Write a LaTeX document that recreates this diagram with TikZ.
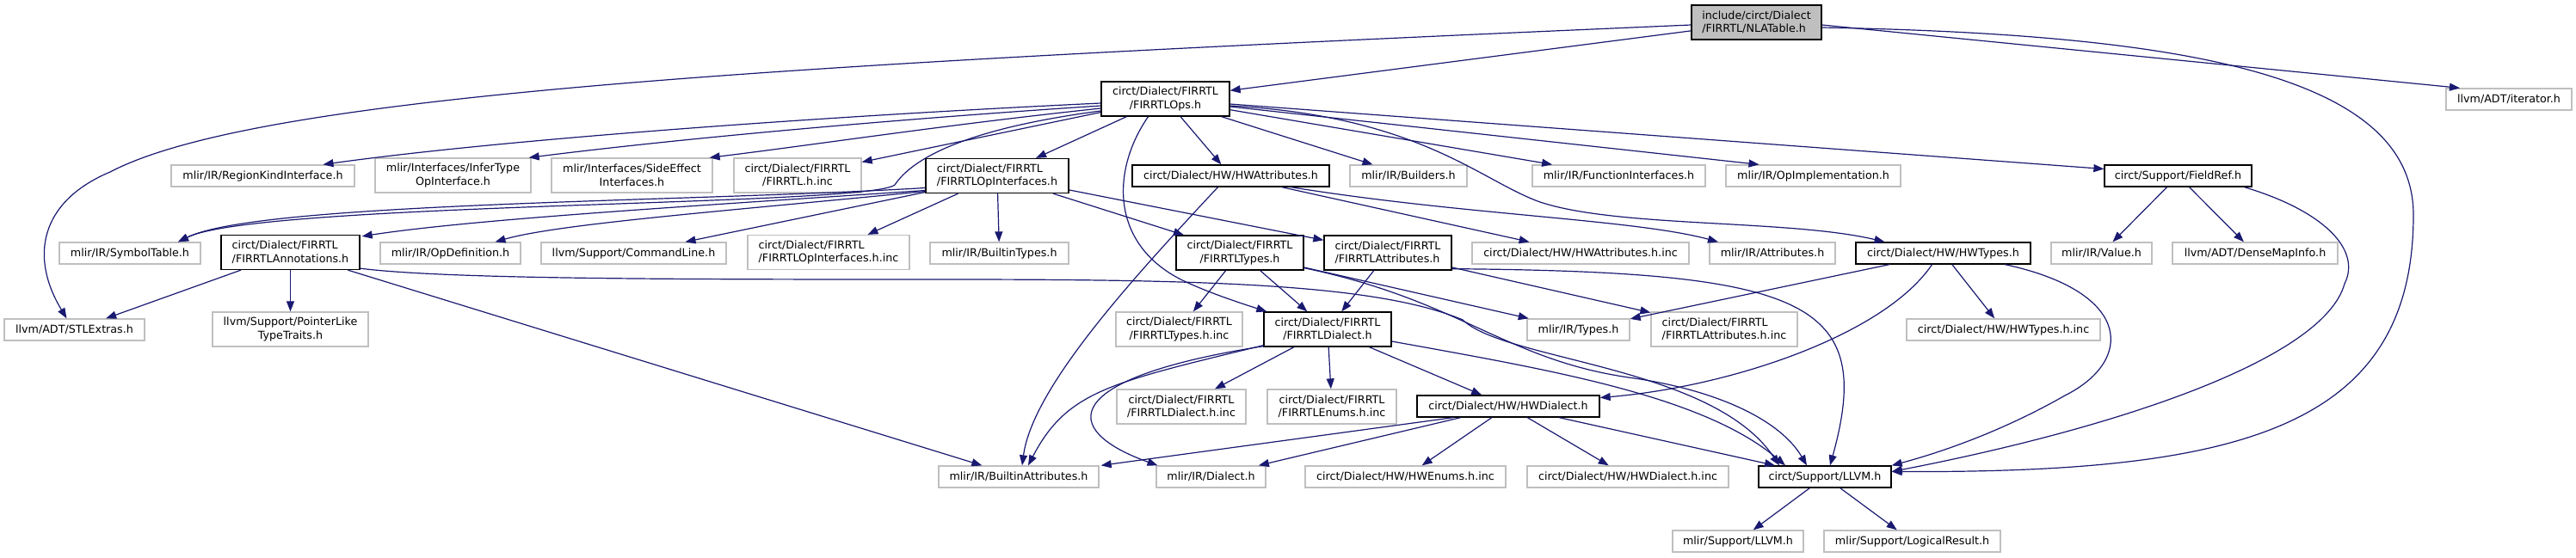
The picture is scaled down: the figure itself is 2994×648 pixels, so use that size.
\documentclass[tikz,border=0pt]{standalone}
\usepackage{fontspec}
\setmainfont{DejaVu Sans}
\usetikzlibrary{arrows.meta}
\definecolor{edgec}{HTML}{191970}
\definecolor{gborder}{HTML}{BFBFBF}
\definecolor{rootfill}{HTML}{BFBFBF}
\tikzset{
  base/.style={rectangle, inner sep=0pt, line width=1.3pt, fill=white,
    font=\fontsize{12.7}{15.5}\selectfont, minimum height=25pt, align=center},
  gn/.style={base, draw=gborder},
  bn/.style={base, draw=black},
  rn/.style={base, draw=black, fill=rootfill},
  wd/.style={minimum width=#1},
  tall/.style={minimum height=40pt},
  lft/.style={align=left},
  e/.style={draw=edgec, line width=1.2pt, -{Triangle[length=12pt,width=9pt]}},
}
\begin{document}
\begin{tikzpicture}[x=1pt,y=-1pt]
\useasboundingbox (0,0) rectangle (2994,648);
% ---- nodes ----
\node[rn, tall, lft, wd=151pt] (root) at (2041.5,26) {include/circt/Dialect\\/FIRRTL/NLATable.h};
\node[bn, tall, wd=149pt] (ops) at (1354.5,115) {circt/Dialect/FIRRTL\\/FIRRTLOps.h};
\node[gn, wd=146pt] (iter) at (2916,115.5) {llvm/ADT/iterator.h};

\node[gn, wd=213pt] (region) at (305.5,204.5) {mlir/IR/RegionKindInterface.h};
\node[gn, tall, wd=181pt] (infer) at (526.5,204) {mlir/Interfaces/InferType\\OpInterface.h};
\node[gn, tall, wd=187pt] (side) at (734.5,204) {mlir/Interfaces/SideEffect\\Interfaces.h};
\node[gn, tall, wd=148pt] (firinc) at (927,204) {circt/Dialect/FIRRTL\\/FIRRTL.h.inc};
\node[bn, tall, lft, wd=166pt] (opif) at (1159,204.5) {circt/Dialect/FIRRTL\\/FIRRTLOpInterfaces.h};
\node[bn, wd=229pt] (hwattr) at (1430.5,204.5) {circt/Dialect/HW/HWAttributes.h};
\node[gn, wd=136pt] (builders) at (1637,204.5) {mlir/IR/Builders.h};
\node[gn, wd=201pt] (funcif) at (1881.5,204.5) {mlir/IR/FunctionInterfaces.h};
\node[gn, wd=203pt] (opimpl) at (2107.5,204.5) {mlir/IR/OpImplementation.h};
\node[bn, wd=171pt] (fieldref) at (2531.5,204.5) {circt/Support/FieldRef.h};

\node[gn, wd=164pt] (symtab) at (151,294.5) {mlir/IR/SymbolTable.h};
\node[bn, tall, lft, wd=161pt] (annot) at (337.5,293.5) {circt/Dialect/FIRRTL\\/FIRRTLAnnotations.h};
\node[gn, wd=163pt] (opdef) at (523.5,294.5) {mlir/IR/OpDefinition.h};
\node[gn, wd=215pt] (cmdline) at (736.5,294.5) {llvm/Support/CommandLine.h};
\node[gn, tall, lft, wd=188pt] (opifinc) at (963,293.5) {circt/Dialect/FIRRTL\\/FIRRTLOpInterfaces.h.inc};
\node[gn, wd=161pt] (btypes) at (1161.5,294.5) {mlir/IR/BuiltinTypes.h};
\node[bn, tall, wd=148pt] (firtypes) at (1441,294) {circt/Dialect/FIRRTL\\/FIRRTLTypes.h};
\node[bn, tall, lft, wd=148pt] (firattr) at (1613,294) {circt/Dialect/FIRRTL\\/FIRRTLAttributes.h};
\node[gn, wd=252pt] (hwattrinc) at (1837,294.5) {circt/Dialect/HW/HWAttributes.h.inc};
\node[gn, wd=146pt] (attrs) at (2060,294.5) {mlir/IR/Attributes.h};
\node[bn, wd=203pt] (hwtypes) at (2258.5,294.5) {circt/Dialect/HW/HWTypes.h};
\node[gn, wd=117pt] (value) at (2442.5,294.5) {mlir/IR/Value.h};
\node[gn, wd=192pt] (densemap) at (2621,294.5) {llvm/ADT/DenseMapInfo.h};

\node[gn, wd=163pt] (stl) at (86.5,383.5) {llvm/ADT/STLExtras.h};
\node[gn, tall, wd=181pt] (pointer) at (337.5,383) {llvm/Support/PointerLike\\TypeTraits.h};
\node[gn, tall, wd=147pt] (firtypesinc) at (1370.5,383) {circt/Dialect/FIRRTL\\/FIRRTLTypes.h.inc};
\node[bn, tall, wd=148pt] (firdialect) at (1543,383) {circt/Dialect/FIRRTL\\/FIRRTLDialect.h};
\node[gn, wd=119pt] (types) at (1834.5,383.5) {mlir/IR/Types.h};
\node[gn, tall, lft, wd=170pt] (firattrinc) at (2004,383) {circt/Dialect/FIRRTL\\/FIRRTLAttributes.h.inc};
\node[gn, wd=225pt] (hwtypesinc) at (2328.5,383.5) {circt/Dialect/HW/HWTypes.h.inc};

\node[gn, tall, wd=150pt] (firdialectinc) at (1373,473) {circt/Dialect/FIRRTL\\/FIRRTLDialect.h.inc};
\node[gn, tall, wd=150pt] (firenums) at (1548,473) {circt/Dialect/FIRRTL\\/FIRRTLEnums.h.inc};
\node[bn, wd=212pt] (hwdialect) at (1753,472.5) {circt/Dialect/HW/HWDialect.h};

\node[gn, wd=186pt] (battr) at (1184,554.5) {mlir/IR/BuiltinAttributes.h};
\node[gn, wd=127pt] (dialect) at (1407.5,554.5) {mlir/IR/Dialect.h};
\node[gn, wd=233pt] (hwenums) at (1633.5,554.5) {circt/Dialect/HW/HWEnums.h.inc};
\node[gn, wd=234pt] (hwdialectinc) at (1892,554.5) {circt/Dialect/HW/HWDialect.h.inc};
\node[bn, wd=154pt] (llvm) at (2121,554.5) {circt/Support/LLVM.h};

\node[gn, wd=152pt] (mllvm) at (2020,629.5) {mlir/Support/LLVM.h};
\node[gn, wd=205pt] (logical) at (2222.5,629.5) {mlir/Support/LogicalResult.h};

% ---- edges ----
% root
\draw[e] (root) -- (ops);
\draw[e] ([yshift=-3pt]root.east) -- ([xshift=-57pt]iter.north);
\draw[e] ([yshift=-3pt]root.west) .. controls (900,75) and (300,110) .. (128,200)
  .. controls (45,235) and (35,300) .. ([xshift=-9pt]stl.north);
\draw[e] ([yshift=-6pt]root.east) .. controls (2550,40) and (2805,90) .. (2805,250)
  .. controls (2805,500) and (2600,550) .. ([yshift=6pt]llvm.east);
% FIRRTLOps
\draw[e] ([yshift=-5pt]ops.west) .. controls (1000,133) and (600,160) .. ([xshift=70pt]region.north);
\draw[e] ([yshift=-8pt]ops.west) .. controls (1050,138) and (800,160) .. ([xshift=-3pt]infer.north east);
\draw[e] ([yshift=-11pt]ops.west) .. controls (1100,145) and (950,168) .. ([xshift=-4pt]side.north east);
\draw[e] (ops) -- (firinc);
\draw[e] ([yshift=-14pt]ops.west) .. controls (1120,150) and (1060,185) .. (1040,215)
  .. controls (1010,240) and (300,235) .. ([xshift=56pt]symtab.north);
\draw[e] (ops) -- (opif);
\draw[e] (ops) -- (hwattr);
\draw[e] (ops) -- (builders);
\draw[e] (ops) -- (funcif);
\draw[e] ([yshift=-9pt]ops.east) -- ([xshift=-63pt]opimpl.north);
\draw[e] ([yshift=-6pt]ops.east) -- ([yshift=8pt]fieldref.west);
\draw[e] ([yshift=-8pt]ops.east) .. controls (1650,135) and (1720,210) .. (1790,235)
  .. controls (1880,265) and (2080,255) .. ([xshift=-68pt]hwtypes.north);
\draw[e] ([xshift=-20pt]ops.south) .. controls (1290,200) and (1290,290) .. (1383,330)
  .. controls (1410,342) and (1440,352) .. ([xshift=4pt]firdialect.north west);
% FIRRTLOpInterfaces
\draw[e] ([yshift=-14pt]opif.west) .. controls (800,235) and (300,235) .. ([xshift=56pt]symtab.north);
\draw[e] ([yshift=-17pt]opif.west) .. controls (800,240) and (550,255) .. ([xshift=2pt,yshift=-2pt]annot.north east);
\draw[e] ([yshift=-18pt]opif.west) .. controls (850,245) and (650,260) .. ([xshift=52pt]opdef.north);
\draw[e] ([yshift=-19pt]opif.west) -- ([xshift=60pt]cmdline.north);
\draw[e] (opif) -- (opifinc);
\draw[e] (opif) -- (btypes);
\draw[e] (opif) -- (firtypes);
\draw[e] (opif) -- (firattr);
% FIRRTLAnnotations
\draw[e] (annot) -- (stl);
\draw[e] (annot) -- (pointer);
\draw[e] (annot) -- (battr);
\draw[e] ([yshift=2pt]annot.south east) .. controls (520,325) and (800,325) .. (1100,325)
  .. controls (1400,325) and (1600,330) .. (1700,372)
  .. controls (1750,420) and (1990,425) .. ([xshift=-53pt]llvm.north);
% FIRRTLTypes
\draw[e] (firtypes) -- (firtypesinc);
\draw[e] (firtypes) -- (firdialect);
\draw[e] (firtypes) -- (types);
\draw[e] ([yshift=3pt]firtypes.south east) .. controls (1700,350) and (1750,420) .. (1900,440)
  .. controls (2000,455) and (2070,490) .. ([xshift=-21pt]llvm.north);
% FIRRTLAttributes
\draw[e] (firattr) -- (firdialect);
\draw[e] (firattr) -- (firattrinc);
\draw[e] ([yshift=2pt]firattr.south east) .. controls (2100,316) and (2180,350) .. ([xshift=6pt]llvm.north);
% HWAttributes
\draw[e] ([xshift=-15pt]hwattr.south) .. controls (1320,320) and (1200,450) .. ([xshift=4pt]battr.north);
\draw[e] (hwattr) -- (hwattrinc);
\draw[e] ([xshift=70pt]hwattr.south) .. controls (1700,250) and (1900,255) .. ([xshift=-63pt]attrs.north);
% HWTypes
\draw[e] (hwtypes) -- (types);
\draw[e] ([xshift=-13pt]hwtypes.south) .. controls (2190,390) and (2010,450) .. ([yshift=10pt]hwdialect.east);
\draw[e] (hwtypes) -- (hwtypesinc);
\draw[e] ([xshift=72pt]hwtypes.south) .. controls (2480,340) and (2480,420) .. (2400,460)
  .. controls (2330,500) and (2260,525) .. (llvm.north east);
% FieldRef
\draw[e] (fieldref) -- (value);
\draw[e] (fieldref) -- (densemap);
\draw[e] ([xshift=77pt]fieldref.south) .. controls (2700,245) and (2745,290) .. (2725,330)
  .. controls (2700,420) and (2450,500) .. ([yshift=6pt]llvm.east);
% FIRRTLDialect
\draw[e] (firdialect) -- (firdialectinc);
\draw[e] (firdialect) -- (firenums);
\draw[e] (firdialect) -- (hwdialect);
\draw[e] ([yshift=2pt]firdialect.south west) .. controls (1290,445) and (1240,455) .. ([xshift=11pt]battr.north);
\draw[e] ([yshift=1pt]firdialect.south west) .. controls (1230,440) and (1230,500) .. ([xshift=-62pt]dialect.north);
\draw[e] ([yshift=-14pt]firdialect.east) .. controls (1800,430) and (1980,460) .. ([xshift=-46pt]llvm.north);
% HWDialect
\draw[e] ([xshift=-64pt]hwdialect.south) -- ([xshift=2pt]battr.north east);
\draw[e] (hwdialect) -- (dialect);
\draw[e] (hwdialect) -- (hwenums);
\draw[e] (hwdialect) -- (hwdialectinc);
\draw[e] (hwdialect) -- ([xshift=-58pt]llvm.north);
% LLVM
\draw[e] (llvm) -- (mllvm);
\draw[e] (llvm) -- (logical);
\end{tikzpicture}
\end{document}
